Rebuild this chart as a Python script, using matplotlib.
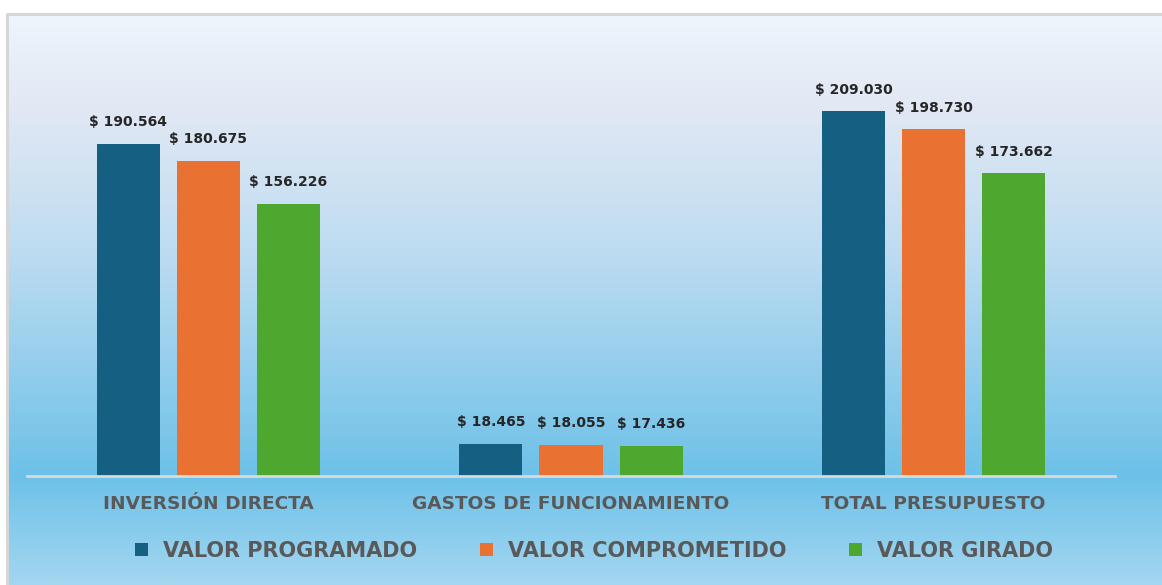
import numpy as np
import matplotlib
matplotlib.use("Agg")
import matplotlib.pyplot as plt
from matplotlib.colors import to_rgb
from matplotlib.patches import Patch

categories = ["INVERSIÓN DIRECTA", "GASTOS DE FUNCIONAMIENTO", "TOTAL PRESUPUESTO"]
series_names = ["VALOR PROGRAMADO", "VALOR COMPROMETIDO", "VALOR GIRADO"]
programado = [190564, 18465, 209030]
comprometido = [180675, 18055, 198730]
girado = [156226, 17436, 173662]
colors = ["#156082", "#E97132", "#4EA72E"]

W, H = 1162, 585
fig = plt.figure(figsize=(W / 100, H / 100), dpi=100)
fig.patch.set_facecolor("white")

# background gradient panel
bg = fig.add_axes([0, 0, 1, 1])
bg.set_xlim(0, W)
bg.set_ylim(H, 0)
bg.axis("off")
stops = [(13, "#eef5fc"), (110, "#e1e8f4"), (250, "#bedcf1"), (476, "#6dc1e8"), (585, "#a3d7f1")]
ys = np.arange(13, H + 1)
sy = [s[0] for s in stops]
cols = np.array([to_rgb(s[1]) for s in stops])
grad = np.stack([np.interp(ys, sy, cols[:, k]) for k in range(3)], axis=-1)[:, None, :]
bg.imshow(grad, extent=(6, W, H, 13), aspect="auto", zorder=0)
bg.plot([6.5, 6.5, W], [H, 13.5, 13.5], color="#d6d6d6", lw=2.2, zorder=1)

# main axes
left, right = 27 / W, 1115 / W
bottom = 1 - 476 / H
top = 1 - 13 / H
ax = fig.add_axes([left, bottom, right - left, top - bottom])
ax.patch.set_alpha(0)
px_per_unit = 364.5 / 209030
ax.set_ylim(0, (476 - 13) / px_per_unit)
ax.set_xlim(-0.5, 2.5)

x = np.arange(len(categories))
bw = 63 / 362.5
step = 80 / 362.5
for i, (vals, c, name) in enumerate(zip([programado, comprometido, girado], colors, series_names)):
    xs = x + (i - 1) * step
    bars = ax.bar(xs, vals, width=bw, color=c, zorder=2)
    for xi, v in zip(xs, vals):
        lab = "$ " + f"{v:,}".replace(",", ".")
        ax.annotate(lab, (xi, v), xytext=(0, 10.5), textcoords="offset points",
                    ha="center", va="bottom", fontsize=10, fontweight="bold",
                    color="#262626", family="DejaVu Sans")

for s in ["top", "right", "left"]:
    ax.spines[s].set_visible(False)
ax.spines["bottom"].set_color("#d9d9d9")
ax.spines["bottom"].set_linewidth(2)
ax.set_yticks([])
ax.set_xticks(x)
ax.set_xticklabels(categories, fontsize=13.3, fontweight="bold", color="#595959", family="DejaVu Sans")
ax.tick_params(axis="x", length=0, pad=14)

handles = [Patch(facecolor=c, edgecolor="none") for c in colors]
fig.legend(handles, series_names, loc="center", bbox_to_anchor=(594 / W, 1 - 551 / H),
           ncol=3, frameon=False, prop={"size": 15, "weight": "bold", "family": "DejaVu Sans"},
           handlelength=0.62, handleheight=0.62, handletextpad=0.72, columnspacing=3.0,
           labelcolor="#595959")

fig.savefig("out.png", dpi=100, facecolor="white")
